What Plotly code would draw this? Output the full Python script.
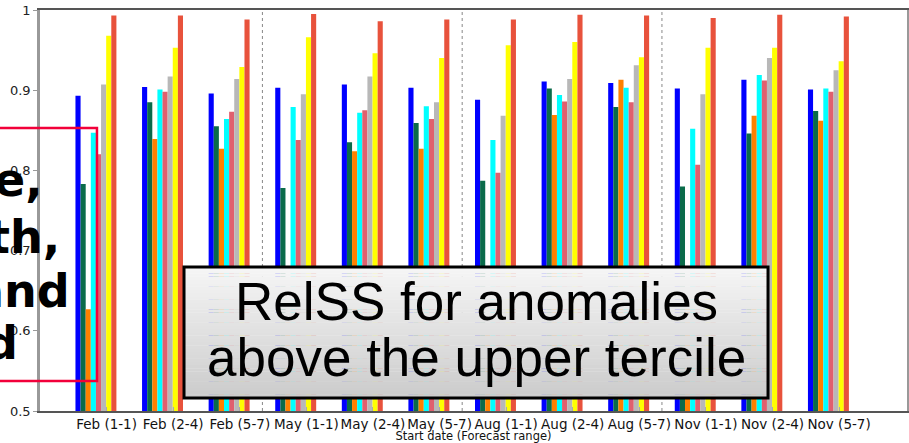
import plotly.graph_objects as go

# Start dates / forecast ranges on the x axis
categories = ["Feb (1-1)", "Feb (2-4)", "Feb (5-7)",
              "May (1-1)", "May (2-4)", "May (5-7)",
              "Aug (1-1)", "Aug (2-4)", "Aug (5-7)",
              "Nov (1-1)", "Nov (2-4)", "Nov (5-7)"]

# RelSS per system (one list per bar colour)
s_blue = [0.893, 0.904, 0.896, 0.903, 0.907, 0.903, 0.888, 0.911, 0.909, 0.902, 0.913, 0.901]
s_green = [0.783, 0.885, 0.855, 0.778, 0.835, 0.859, 0.787, 0.902, 0.879, 0.780, 0.846, 0.874]
s_orange = [0.627, 0.839, 0.827, 0.620, 0.824, 0.827, 0.600, 0.869, 0.913, 0.630, 0.868, 0.862]
s_cyan = [0.847, 0.901, 0.864, 0.879, 0.872, 0.880, 0.838, 0.894, 0.903, 0.852, 0.919, 0.902]
s_pink = [0.820, 0.898, 0.873, 0.838, 0.875, 0.864, 0.797, 0.886, 0.885, 0.807, 0.912, 0.898]
s_gray = [0.907, 0.917, 0.914, 0.895, 0.917, 0.885, 0.868, 0.914, 0.931, 0.895, 0.940, 0.925]
s_yellow = [0.968, 0.953, 0.929, 0.966, 0.946, 0.940, 0.956, 0.960, 0.941, 0.953, 0.953, 0.936]
s_red = [0.993, 0.993, 0.988, 0.995, 0.986, 0.988, 0.988, 0.994, 0.993, 0.990, 0.994, 0.992]

series = [s_blue, s_green, s_orange, s_cyan, s_pink, s_gray, s_yellow, s_red]
colors = ["#0000ff", "#0a6b4a", "#ff8000", "#00ffff", "#e0606e", "#b8b8b8", "#ffff00", "#e8523c"]
names = ["System 1", "System 2", "System 3", "System 4",
         "System 5", "System 6", "System 7", "System 8"]

y_ticks = [0.5, 0.6, 0.7, 0.8, 0.9, 1.0]
y_ticktext = ["0.5", "0.6", "0.7", "0.8", "0.9", "1"]

xpos = list(range(len(categories)))

fig = go.Figure()
for vals, col, nm in zip(series, colors, names):
    fig.add_trace(go.Bar(x=xpos, y=vals, name=nm, marker=dict(color=col, line=dict(width=0))))

shapes = []
# dotted separators between seasons
for sep in [2.5, 5.5, 8.5]:
    shapes.append(dict(type="line", xref="x", yref="paper", x0=sep, x1=sep, y0=0, y1=1,
                       line=dict(color="#888888", width=1, dash="dot"), layer="below"))

# grey gradient panel behind the caption
bx0, bx1, by0, by1 = 0.1661, 0.8397, 0.0324, 0.3591
n_strips = 40
for i in range(n_strips):
    t = i / (n_strips - 1)
    g = int(round(0xcc + (0xf5 - 0xcc) * t))
    ya = by0 + (by1 - by0) * i / n_strips
    yb = by0 + (by1 - by0) * (i + 1) / n_strips
    shapes.append(dict(type="rect", xref="paper", yref="paper", x0=bx0, x1=bx1, y0=ya, y1=yb + 0.001,
                       fillcolor=f"rgb({g},{g},{g})", line=dict(width=0), layer="above"))
shapes.append(dict(type="rect", xref="paper", yref="paper", x0=bx0, x1=bx1, y0=by0, y1=by1,
                   line=dict(color="black", width=3), fillcolor="rgba(0,0,0,0)", layer="above"))

# red frame on the left
shapes.append(dict(type="rect", xref="paper", yref="paper", x0=-0.2, x1=0.0657, y0=0.0748, y1=0.7057,
                   line=dict(color="#f2003a", width=2.5), fillcolor="rgba(0,0,0,0)", layer="above"))

annotations = [
    dict(text="RelSS for anomalies", xref="paper", yref="paper", x=0.503, y=0.2743,
         xanchor="center", yanchor="middle", showarrow=False,
         font=dict(family="Liberation Sans, Arial", size=53, color="black")),
    dict(text="above the upper tercile", xref="paper", yref="paper", x=0.503, y=0.1322,
         xanchor="center", yanchor="middle", showarrow=False,
         font=dict(family="Liberation Sans, Arial", size=53, color="black")),
]
left_lines = [("e,", 0.0058, 0.575), ("th,", 0.0254, 0.435), ("and", 0.0369, 0.300), ("d", -0.0231, 0.170)]
for txt, xr, yc in left_lines:
    annotations.append(dict(text=f"<b>{txt}</b>", xref="paper", yref="paper", x=xr, y=yc,
                            xanchor="right", yanchor="middle", showarrow=False,
                            font=dict(family="DejaVu Sans", size=46, color="black")))

fig.update_layout(
    width=909, height=443,
    margin=dict(l=40, r=2, t=10, b=32),
    paper_bgcolor="white", plot_bgcolor="white",
    barmode="group", bargap=0.385, bargroupgap=0,
    showlegend=False,
    shapes=shapes,
    annotations=annotations,
    xaxis=dict(
        range=[-0.84, 12.18],
        tickmode="array", tickvals=[p + 0.16 for p in xpos], ticktext=categories,
        tickangle=0, automargin=False, ticklabelstandoff=0,
        tickfont=dict(family="DejaVu Sans", size=13.5, color="#111111"),
        ticks="inside", ticklen=4, tickcolor="#aaaaaa",
        showline=True, linecolor="#555555", linewidth=1.5, mirror=True,
        showgrid=False, zeroline=False,
        title=dict(text="Start date (Forecast range)", standoff=0,
                   font=dict(family="DejaVu Sans", size=11.5, color="#111111")),
    ),
    yaxis=dict(
        range=[0.5, 1.0], automargin=False,
        tickmode="array", tickvals=y_ticks, ticktext=y_ticktext,
        tickfont=dict(family="DejaVu Sans", size=13, color="#222222"),
        ticks="outside", ticklen=4, tickcolor="#999999",
        showline=True, linecolor="#999999", linewidth=2.5, mirror=True,
        showgrid=False, zeroline=False,
    ),
)

fig.write_html("out.html")
